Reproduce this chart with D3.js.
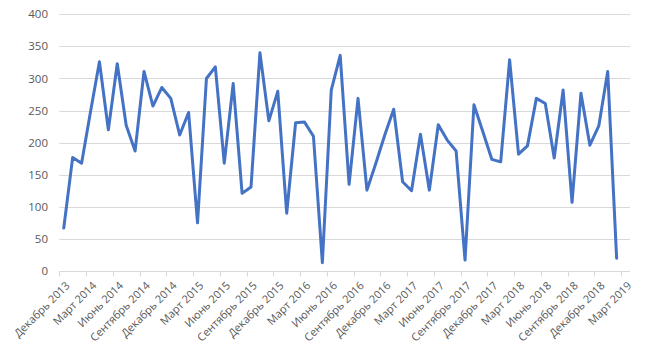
<!DOCTYPE html>
<html>
<head>
<meta charset="utf-8">
<script src="https://cdn.jsdelivr.net/npm/d3@7"></script>
<style>
  body { margin: 0; background: #fff; }
  text { font-family: "Open Sans", "Liberation Sans", sans-serif; fill: #595959; }
</style>
</head>
<body>
<div id="chart"></div>
<script>
// monthly values, Dec 2013 .. Feb 2019 (Mar 2019 on the axis has no value)
const monthNames = ["Январь","Февраль","Март","Апрель","Май","Июнь","Июль","Август","Сентябрь","Октябрь","Ноябрь","Декабрь"]
const values = [67, 177, 168, 248, 326, 220, 323, 227, 187, 311, 257, 286, 269, 212, 247, 75,
  300, 318, 168, 292, 121, 131, 340, 234, 280, 90, 231, 232, 210, 13, 282, 336,
  135, 269, 126, 168, 212, 252, 139, 125, 213, 126, 228, 204, 187, 17, 259, 217,
  174, 170, 329, 182, 195, 269, 261, 176, 282, 107, 277, 196, 226, 311, 20]
const yTicks = [0, 50, 100, 150, 200, 250, 300, 350, 400]

// category list: Dec 2013 .. Mar 2019
const categories = []
for (let y = 2013, m = 11; y < 2019 || m <= 2; ) {
  categories.push(monthNames[m] + " " + y)
  m++
  if (m > 11) { m = 0; y++ }
}

const W = 650, H = 351
const margin = { top: 14.3, right: 20, bottom: 80, left: 59.3 }

const svg = d3.select("#chart").append("svg")
  .attr("width", W).attr("height", H)

const x = d3.scaleBand()
  .domain(categories)
  .range([margin.left, 630])

const y = d3.scaleLinear()
  .domain([0, 400])
  .range([271, margin.top])

// horizontal gridlines
svg.append("g")
  .selectAll("line")
  .data(yTicks.filter(d => d > 0)).join("line")
  .attr("x1", margin.left).attr("x2", 630)
  .attr("y1", d => Math.round(y(d)) + 0.5).attr("y2", d => Math.round(y(d)) + 0.5)
  .attr("stroke", "#d9d9d9").attr("stroke-width", 1)

// y labels
svg.append("g")
  .selectAll("text")
  .data(yTicks).join("text")
  .attr("x", 48).attr("y", d => y(d))
  .attr("dy", "0.35em")
  .attr("text-anchor", "end")
  .style("font-size", "11.5px")
  .text(d => d)

// x axis line and tick marks between every third category
const xAxisY = Math.round(y(0)) + 0.5
svg.append("line")
  .attr("x1", margin.left).attr("x2", 630)
  .attr("y1", xAxisY).attr("y2", xAxisY)
  .attr("stroke", "#d9d9d9")

const tickCats = categories.filter((d, i) => i % 3 === 0)
svg.append("g")
  .selectAll("line")
  .data(tickCats).join("line")
  .attr("x1", d => Math.round(x(d)) + 0.5).attr("x2", d => Math.round(x(d)) + 0.5)
  .attr("y1", xAxisY).attr("y2", xAxisY + 5)
  .attr("stroke", "#d9d9d9")

// rotated category labels
svg.append("g")
  .selectAll("text")
  .data(tickCats).join("text")
  .attr("transform", d => `translate(${x(d) + x.bandwidth() / 2 + 4},${xAxisY + 12}) rotate(-45)`)
  .attr("text-anchor", "end")
  .attr("dy", "0.35em")
  .style("font-size", "11px")
  .text(d => d)

// the series line
const line = d3.line()
  .x((d, i) => x(categories[i]) + x.bandwidth() / 2)
  .y(d => y(d))

svg.append("path")
  .datum(values)
  .attr("d", line)
  .attr("fill", "none")
  .attr("stroke", "#4472c4")
  .attr("stroke-width", 3)
  .attr("stroke-linejoin", "round")
  .attr("stroke-linecap", "round")
</script>
</body>
</html>
